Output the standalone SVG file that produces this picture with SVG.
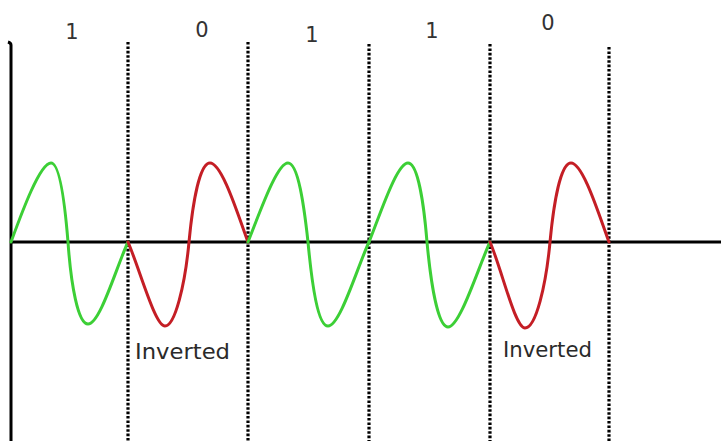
<svg xmlns="http://www.w3.org/2000/svg" width="721" height="441" viewBox="0 0 721 441">
<style>
.axis{stroke:#000;stroke-width:3;fill:none}
.dot{stroke:#000;stroke-width:3.2;stroke-dasharray:2.6 1.8;fill:none}
.g{stroke:#3ccf36;stroke-width:3;fill:none;stroke-linejoin:round;stroke-linecap:round}
.r{stroke:#c41e25;stroke-width:3;fill:none;stroke-linejoin:round;stroke-linecap:round}
.lbl{font-family:"DejaVu Sans",Verdana,sans-serif;font-size:21px;fill:#333;text-anchor:middle}
.inv{font-family:"DejaVu Sans",Verdana,sans-serif;font-size:22px;fill:#2a2a2a}
</style>
<rect width="721" height="441" fill="#fff"/>
<g id="axes">
<path class="axis" d="M11,441 V45 Q11,43 8,42"/>
<path class="axis" d="M10,242 H721"/>
</g>
<g id="dividers">
<path class="dot" d="M128,42 V441"/>
<path class="dot" d="M248,42 V441"/>
<path class="dot" d="M369,44 V441"/>
<path class="dot" d="M490,44 V441"/>
<path class="dot" d="M609,47 V441"/>
</g>
<g id="wave">
<path class="g" d="M11,242 C22,212 40,163 51,163 C60,163 65,205 68,242 C71,285 78,324 88,324 C100,324 116,268 128,242"/>
<path class="r" d="M128,242 C140,270 155,326 165,326 C175,326 185,285 189,242 C193,200 200,163 210,163 C222,163 238,215 248,242"/>
<path class="g" d="M248,242 C260,212 277,163 288,163 C298,163 304,205 308,242 C312,285 318,326 328,326 C340,326 357,268 369,242"/>
<path class="g" d="M369,242 C381,212 397,163 408,163 C418,163 424,205 427,242 C431,285 438,327 448,327 C460,327 478,268 490,242"/>
<path class="r" d="M490,242 C502,270 515,328 525,328 C536,328 546,285 550,242 C554,200 561,163 571,163 C583,163 599,215 609,242"/>
</g>
<g id="labels">
<text class="lbl" x="72" y="39">1</text>
<text class="lbl" x="202" y="37">0</text>
<text class="lbl" x="312" y="42">1</text>
<text class="lbl" x="432" y="38">1</text>
<text class="lbl" x="548" y="30">0</text>
<text class="inv" x="135" y="359" textLength="95" lengthAdjust="spacingAndGlyphs">Inverted</text>
<text class="inv" x="503" y="357" textLength="89" lengthAdjust="spacingAndGlyphs">Inverted</text>
</g>
</svg>
